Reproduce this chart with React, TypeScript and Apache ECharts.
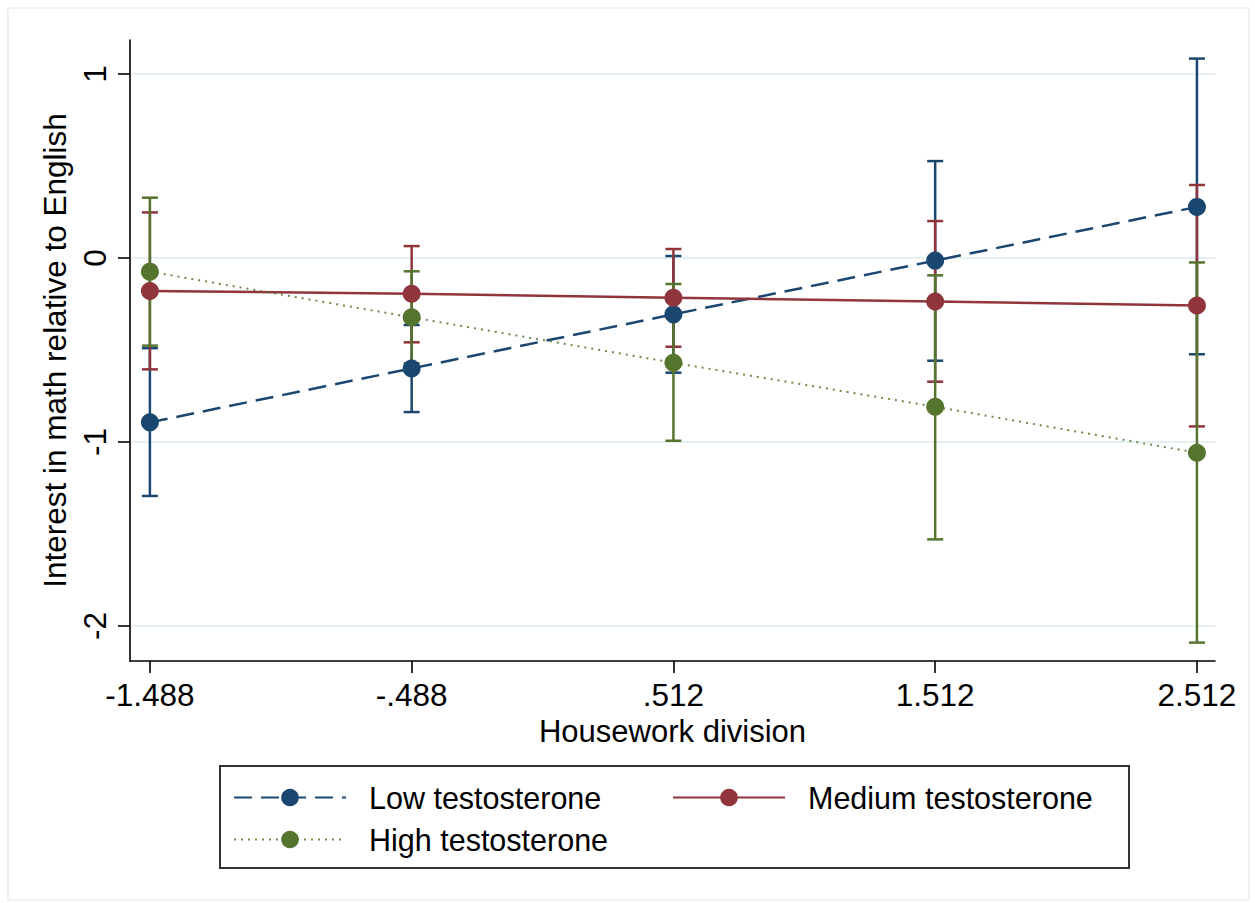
import React, { useEffect, useRef } from 'react';
import * as echarts from 'echarts';

const xLabels = ['-1.488', '-.488', '.512', '1.512', '2.512'];
const xValues = [-1.488, -0.488, 0.512, 1.512, 2.512];
const yTicks = [-2, -1, 0, 1];

const lowMean = [-0.893, -0.6, -0.306, -0.014, 0.278];
const lowLower = [-1.293, -0.837, -0.623, -0.558, -0.523];
const lowUpper = [-0.49, -0.364, 0.011, 0.527, 1.084];

const medMean = [-0.179, -0.194, -0.216, -0.236, -0.258];
const medLower = [-0.605, -0.458, -0.482, -0.672, -0.915];
const medUpper = [0.248, 0.065, 0.049, 0.201, 0.397];

const highMean = [-0.074, -0.322, -0.569, -0.808, -1.058];
const highLower = [-0.476, -0.572, -0.993, -1.529, -2.09];
const highUpper = [0.328, -0.072, -0.141, -0.094, -0.024];

const seriesNames = ['Low testosterone', 'Medium testosterone', 'High testosterone'];
const colors = ['#1a476f', '#90353b', '#55752f'];

const FONT = '"Liberation Sans", Arial, Helvetica, sans-serif';

function ciSeries(name: string, color: string, lower: number[], upper: number[], z: number) {
  return {
    type: 'custom',
    name,
    z,
    silent: true,
    encode: { x: 0, y: [1, 2] },
    data: xValues.map((x, i) => [x, lower[i], upper[i]]),
    renderItem: (params: any, api: any) => {
      const x = api.value(0);
      const lo = api.coord([x, api.value(1)]);
      const hi = api.coord([x, api.value(2)]);
      const w = 8;
      const style = { stroke: color, lineWidth: 2.5, fill: 'none' };
      return {
        type: 'group',
        children: [
          { type: 'line', shape: { x1: lo[0], y1: lo[1], x2: hi[0], y2: hi[1] }, style },
          { type: 'line', shape: { x1: lo[0] - w, y1: lo[1], x2: lo[0] + w, y2: lo[1] }, style },
          { type: 'line', shape: { x1: hi[0] - w, y1: hi[1], x2: hi[0] + w, y2: hi[1] }, style },
        ],
      };
    },
  };
}

function lineSeries(name: string, color: string, mean: number[], lineStyle: any, z: number) {
  return {
    type: 'line',
    name,
    z,
    data: xValues.map((x, i) => [x, mean[i]]),
    symbol: 'circle',
    symbolSize: 18,
    showSymbol: true,
    itemStyle: { color },
    lineStyle: { color, ...lineStyle },
    emphasis: { disabled: true },
  };
}

export default function App() {
  const ref = useRef<HTMLDivElement>(null);
  useEffect(() => {
    if (!ref.current) return;
    const chart = echarts.init(ref.current, null, { renderer: 'svg' });
    const option: any = {
      animation: false,
      backgroundColor: '#ffffff',
      textStyle: { fontFamily: FONT, color: '#000' },
      graphic: [
        {
          type: 'rect',
          shape: { x: 8, y: 8, width: 1241, height: 892 },
          style: { fill: 'none', stroke: '#e6eff0', lineWidth: 1.5 },
          silent: true,
          z: -1,
        },
      ],
      grid: { left: 130, right: 40, top: 40, bottom: 242, containLabel: false },
      xAxis: {
        type: 'value',
        min: -1.564,
        max: 2.581,
        name: 'Housework division',
        nameLocation: 'middle',
        nameGap: 53,
        nameTextStyle: { fontSize: 31, fontFamily: FONT, color: '#000' },
        axisLine: { show: true, onZero: false, lineStyle: { color: '#000', width: 1.6 } },
        axisTick: { show: true, customValues: xValues, length: 12, lineStyle: { color: '#000', width: 1.6 } },
        axisLabel: {
          customValues: xValues,
          fontSize: 31.5,
          fontFamily: FONT,
          color: '#000',
          margin: 18,
          formatter: (v: number) => {
            const i = xValues.findIndex((x) => Math.abs(x - v) < 1e-6);
            return i >= 0 ? xLabels[i] : '';
          },
        },
        splitLine: { show: false },
      },
      yAxis: {
        type: 'value',
        min: -2.19,
        max: 1.185,
        name: 'Interest in math relative to English',
        nameLocation: 'middle',
        nameGap: 54,
        nameTextStyle: { fontSize: 31.5, fontFamily: FONT, color: '#000' },
        axisLine: { show: true, onZero: false, lineStyle: { color: '#000', width: 1.6 } },
        axisTick: { show: true, customValues: yTicks, length: 12, lineStyle: { color: '#000', width: 1.6 } },
        axisLabel: {
          customValues: yTicks,
          rotate: 90,
          fontSize: 31.5,
          fontFamily: FONT,
          color: '#000',
          margin: 19,
          formatter: (v: number) => String(v),
        },
        splitLine: { show: true, lineStyle: { color: '#e6f0f1', width: 2 } },
      },
      legend: {
        left: 220,
        top: 766,
        width: 870,
        orient: 'horizontal',
        data: seriesNames,
        itemWidth: 112,
        itemHeight: 22,
        itemGap: 11,
        padding: [16, 29, 13, 13],
        borderColor: '#333',
        borderWidth: 2,
        borderRadius: 0,
        selectedMode: false,
        textStyle: {
          fontSize: 30.5,
          fontFamily: FONT,
          color: '#000',
          lineHeight: 30,
          width: 292,
          padding: [0, 0, 0, 18],
        },
      },
      series: [
        ciSeries('Low CI', colors[0], lowLower, lowUpper, 2),
        ciSeries('Medium CI', colors[1], medLower, medUpper, 3),
        ciSeries('High CI', colors[2], highLower, highUpper, 4),
        lineSeries(seriesNames[0], colors[0], lowMean, { type: [18, 9], width: 2.5 }, 5),
        lineSeries(seriesNames[1], colors[1], medMean, { type: 'solid', width: 2.5 }, 6),
        lineSeries(seriesNames[2], colors[2], highMean, { type: [2, 5], width: 2, opacity: 0.85 }, 7),
      ],
    };
    chart.setOption(option);
    return () => chart.dispose();
  }, []);
  return (
    <div
      ref={ref}
      style={{ position: 'fixed', left: 0, top: 0, width: 1255, height: 903, background: '#fff' }}
    />
  );
}
